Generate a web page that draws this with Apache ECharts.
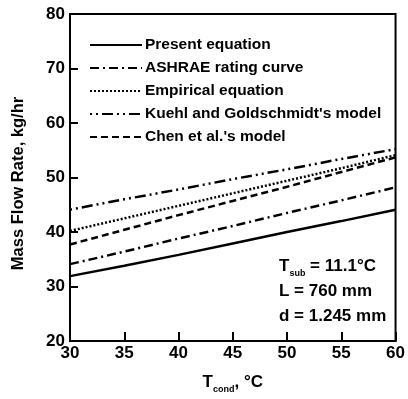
<!DOCTYPE html>
<html>
<head>
<meta charset="utf-8">
<script src="https://cdn.jsdelivr.net/npm/echarts@6/dist/echarts.min.js"></script>
<style>
  html, body { margin: 0; padding: 0; background: #fff; }
  #chart { width: 408px; height: 399px; }
</style>
</head>
<body>
<div id="chart"></div>
<script>
// condensing temperature, deg C
const tCond = [30, 35, 40, 45, 50, 55, 60]
// mass flow rate, kg/hr
const present = [31.9, 33.8, 35.8, 37.9, 40.0, 42.0, 44.1]
const ashrae = [34.1, 36.4, 38.8, 41.1, 43.5, 45.8, 48.2]
const empirical = [40.2, 42.5, 44.8, 47.1, 49.4, 51.7, 54.1]
const kuehl = [44.1, 46.0, 47.8, 49.7, 51.5, 53.4, 55.2]
const chen = [37.7, 40.4, 43.1, 45.7, 48.3, 51.0, 53.7]

const names = [
  'Present equation',
  'ASHRAE rating curve',
  'Empirical equation',
  "Kuehl and Goldschmidt's model",
  "Chen et al.'s model",
]
const values = [present, ashrae, empirical, kuehl, chen]
const dashes = ['solid', [9, 4, 2, 4], [2, 2], [2, 4, 2, 4, 11, 4], [7, 4]]

const font = 'Liberation Sans, Arial, sans-serif'

const chart = echarts.init(document.getElementById('chart'))

const series = names.map((n, i) => ({
  name: n,
  type: 'line',
  symbol: 'none',
  showSymbol: false,
  data: tCond.map((t, j) => [t, values[i][j]]),
  lineStyle: { color: '#000', width: 2.5, type: dashes[i] },
  itemStyle: { color: '#000' },
  z: 3,
}))

const option = {
  animation: false,
  grid: {
    left: 70, right: 11, top: 14, bottom: 54,
    show: true, borderColor: '#000', borderWidth: 2,
  },
  legend: {
    show: true,
    orient: 'vertical',
    left: 84,
    top: 32,
    itemWidth: 52,
    itemHeight: 14,
    itemGap: 7,
    itemStyle: { color: 'transparent', borderWidth: 0, opacity: 0 },
    textStyle: { fontFamily: font, fontWeight: 'bold', fontSize: 15.5, color: '#000', padding: [0, 0, 0, -2] },
    data: names,
  },
  xAxis: {
    type: 'value',
    min: 30, max: 60, interval: 5,
    name: '{t|T}{s|cond}{t|, °C}',
    nameLocation: 'middle',
    nameGap: 30,
    nameTextStyle: {
      rich: {
        t: { fontFamily: font, fontWeight: 'bold', fontSize: 17, color: '#000' },
        s: { fontFamily: font, fontWeight: 'bold', fontSize: 9, color: '#000', padding: [14, 0, 0, 0] },
      },
    },
    axisLine: { lineStyle: { color: '#000', width: 2 } },
    axisTick: { inside: true, length: 9, lineStyle: { color: '#000', width: 2 } },
    axisLabel: { fontFamily: font, fontWeight: 'bold', fontSize: 17, color: '#000', margin: 4 },
    splitLine: { show: false },
  },
  yAxis: {
    type: 'value',
    min: 20, max: 80, interval: 10,
    name: 'Mass Flow Rate, kg/hr',
    nameLocation: 'middle',
    nameGap: 43,
    nameTextStyle: { fontFamily: font, fontWeight: 'bold', fontSize: 16.5, color: '#000', padding: [0, 12, 0, 0] },
    axisLine: { lineStyle: { color: '#000', width: 2 } },
    axisTick: { inside: true, length: 8, lineStyle: { color: '#000', width: 2 } },
    axisLabel: { fontFamily: font, fontWeight: 'bold', fontSize: 17, color: '#000', margin: 5 },
    splitLine: { show: false },
  },
  graphic: [
    {
      type: 'text',
      left: 279,
      top: 255,
      style: {
        text: '{t|T}{s|sub}{t| = 11.1°C}\n{t|L = 760 mm}\n{t|d = 1.245 mm}',
        rich: {
          t: { fontFamily: font, fontWeight: 'bold', fontSize: 17, color: '#000', lineHeight: 25 },
          s: { fontFamily: font, fontWeight: 'bold', fontSize: 9, color: '#000', padding: [14, 0, 0, 0], lineHeight: 25 },
        },
      },
    },
  ],
  series: series,
}

chart.setOption(option)
</script>
</body>
</html>
